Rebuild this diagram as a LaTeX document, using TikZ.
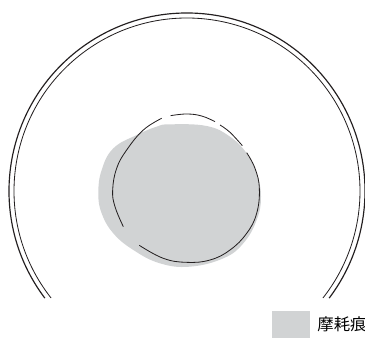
\documentclass[tikz,border=0pt]{standalone}
\usepackage{fontspec}
\usepackage{xcolor}
\usepackage{tikz}
\usetikzlibrary{calc,positioning}
\newfontfamily\cjk{Noto Sans CJK JP}
\definecolor{primary}{RGB}{35, 31, 32}
\definecolor{wear}{RGB}{209, 211, 212}

\begin{document}
\begin{tikzpicture}
\useasboundingbox (0,0) rectangle (10.95,10.14);
\coordinate (O) at (5.61,4.41);
% grey patch
\fill[wear] plot[smooth cycle,tension=0.7] coordinates {(5.10,6.41) (6.20,6.36) (6.90,6.04) (7.40,5.54) (7.70,4.94) (7.83,4.24) (7.70,3.54) (7.30,2.84) (6.70,2.39) (5.70,2.14) (4.80,2.24) (4.00,2.64) (3.40,3.14) (3.05,3.74) (2.95,4.34) (3.05,5.04) (3.40,5.69) (4.10,6.09) (4.70,6.34)};
% broken outline
\draw[primary,line width=0.7pt] plot[smooth,tension=0.7] coordinates {(3.70,3.34) (3.45,3.94) (3.38,4.44) (3.50,5.09) (3.80,5.64) (4.30,6.24) (4.85,6.59)};
\draw[primary,line width=0.7pt] plot[smooth,tension=0.7] coordinates {(5.12,6.67) (5.60,6.72) (6.05,6.66) (6.45,6.49)};
\draw[primary,line width=0.7pt] plot[smooth,tension=0.7] coordinates {(6.60,6.39) (6.90,6.17) (7.27,5.77)};
\draw[primary,line width=0.7pt] plot[smooth,tension=0.7] coordinates {(7.40,5.56) (7.65,5.09) (7.78,4.49) (7.70,3.74) (7.40,3.14) (6.90,2.64) (6.30,2.34) (5.60,2.27) (4.90,2.39) (4.18,2.78)};
% double rim
\draw[primary,line width=1pt] ($(O)+(217:5.34)$) arc (217:-37:5.34);
\draw[primary,line width=0.7pt] ($(O)+(218.2:5.19)$) arc (218.2:-38.2:5.19);
% legend
\node[fill=wear,minimum width=1.14cm,minimum height=0.81cm,inner sep=0pt,anchor=south west] (swatch) at (8.16,0) {};
\node[right=0.2cm of swatch,font=\cjk\fontsize{14pt}{15pt}\selectfont,inner sep=0pt] (wearlabel) {摩耗痕};
\end{tikzpicture}
\end{document}
